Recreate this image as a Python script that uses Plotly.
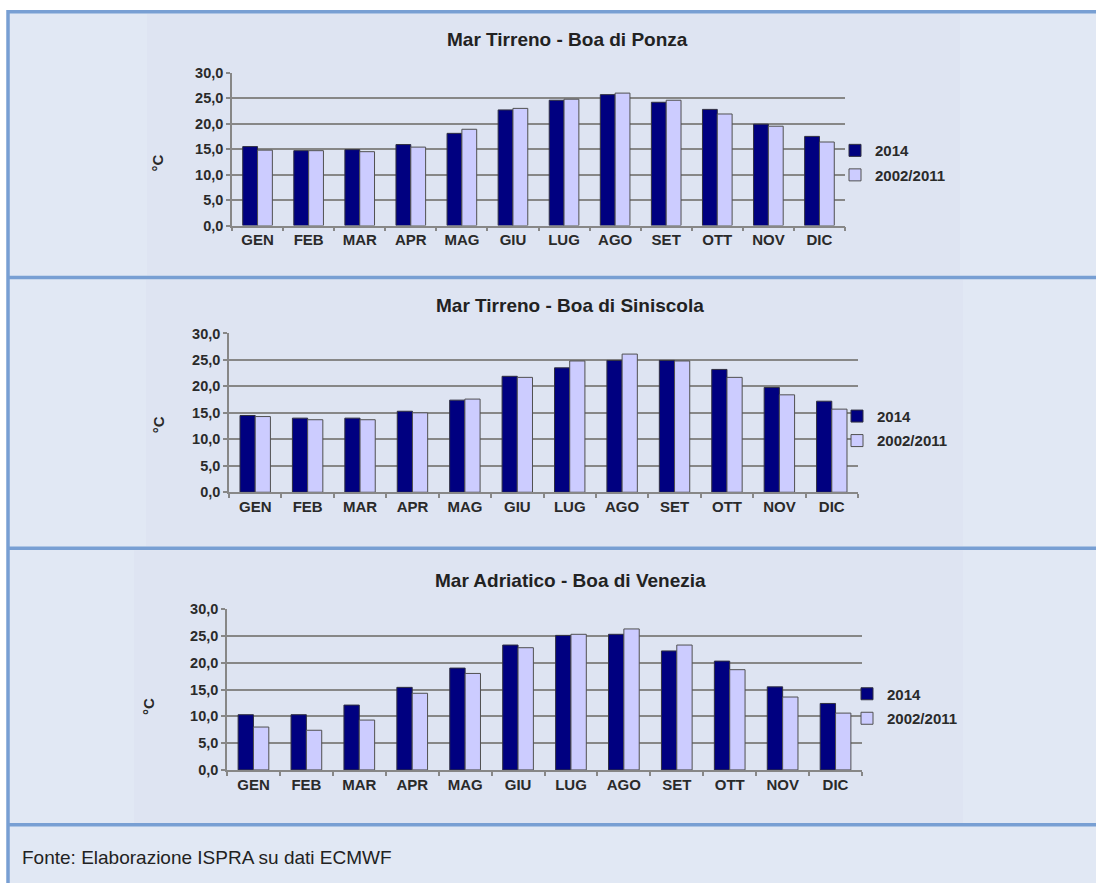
import plotly.graph_objects as go

W, H = 1096, 883

months = ["GEN", "FEB", "MAR", "APR", "MAG", "GIU", "LUG", "AGO", "SET", "OTT", "NOV", "DIC"]
series_names = ["2014", "2002/2011"]

ponza_2014 = [15.5, 14.7, 14.9, 15.9, 18.1, 22.7, 24.6, 25.7, 24.2, 22.8, 19.9, 17.5]
ponza_ref = [14.8, 14.7, 14.5, 15.4, 18.9, 23.0, 24.8, 26.0, 24.6, 21.9, 19.5, 16.4]

siniscola_2014 = [14.5, 14.0, 14.0, 15.3, 17.4, 21.9, 23.5, 24.9, 24.9, 23.2, 19.8, 17.2]
siniscola_ref = [14.3, 13.7, 13.7, 15.0, 17.6, 21.7, 24.8, 26.1, 24.8, 21.7, 18.4, 15.7]

venezia_2014 = [10.3, 10.3, 12.1, 15.4, 19.0, 23.3, 25.1, 25.3, 22.2, 20.3, 15.5, 12.4]
venezia_ref = [8.0, 7.4, 9.3, 14.3, 18.0, 22.8, 25.3, 26.3, 23.3, 18.7, 13.6, 10.6]

titles = ["Mar Tirreno - Boa di Ponza", "Mar Tirreno - Boa di Siniscola", "Mar Adriatico - Boa di Venezia"]
y_tickvals = [0, 5, 10, 15, 20, 25, 30]
y_ticktext = ["0,0", "5,0", "10,0", "15,0", "20,0", "25,0", "30,0"]
y_unit = "°C"
source_text = "Fonte: Elaborazione ISPRA su dati ECMWF"

charts = [(ponza_2014, ponza_ref), (siniscola_2014, siniscola_ref), (venezia_2014, venezia_ref)]

# layout geometry (pixels, as seen in the target picture)
plot_boxes = [(232, 845, 72, 225), (229, 858, 333, 492), (227, 862, 609, 770)]
title_pos = [(567, 39), (570, 305), (570, 580)]
legend_pos = [(835, 162), (837, 428), (847, 706)]
unit_pos = [(158, 163), (158, 425), (148, 707)]
panel_bands = [(13, 275), (279, 546), (550, 825)]
image_regions = [(147, 960), (146, 963), (134, 963)]
border_rows = [11, 277, 548, 825]

FONT = "Arial, 'Liberation Sans', sans-serif"
C2014 = "#000080"
CREF = "#CCCCFF"
GRID = "#878787"
BORDER = "#789FD3"
PANEL = "#E1E8F4"
IMG = "#DEE4F2"
TXT = "#2a2a2a"

def px(x):
    return x / W

def py(y):
    # compensate for the vertical offset/scale observed in the rendered photo
    yc = (y - 7.2) / 0.983
    return 1 - yc / H

fig = go.Figure()
layout = dict(
    width=W, height=H,
    margin=dict(l=0, r=0, t=0, b=0),
    paper_bgcolor="white",
    plot_bgcolor="white",
    barmode="group",
    bargap=0.42,
    bargroupgap=0.0,
    font=dict(family=FONT, color=TXT),
    showlegend=True,
)

shapes = []
annotations = []

# panel backgrounds
shapes.append(dict(type="rect", xref="paper", yref="paper", x0=px(8), x1=1.01, y0=-0.02, y1=py(11),
                   fillcolor=PANEL, line=dict(width=0), layer="below"))
for (y0, y1), (xa, xb) in zip(panel_bands, image_regions):
    shapes.append(dict(type="rect", xref="paper", yref="paper", x0=px(xa), x1=px(xb), y0=py(y1), y1=py(y0),
                       fillcolor=IMG, line=dict(width=0), layer="below"))

# frame borders
for yb in border_rows:
    shapes.append(dict(type="line", xref="paper", yref="paper", x0=px(8), x1=1.01, y0=py(yb), y1=py(yb),
                       line=dict(color=BORDER, width=3.5), layer="above"))
shapes.append(dict(type="line", xref="paper", yref="paper", x0=px(8), x1=px(8), y0=-0.02, y1=py(9.3),
                   line=dict(color=BORDER, width=3.5), layer="above"))

for i, ((s14, sref), (x0, x1, y0, y1)) in enumerate(zip(charts, plot_boxes)):
    n = "" if i == 0 else str(i + 1)
    leg = "legend" if i == 0 else f"legend{i + 1}"
    fig.add_trace(go.Bar(
        x=months, y=s14, name=series_names[0], marker=dict(color=C2014, line=dict(color="#303040", width=1)),
        xaxis=f"x{n}", yaxis=f"y{n}", legend=leg, legendgroup=f"a{i}", hoverinfo="skip"))
    fig.add_trace(go.Bar(
        x=months, y=sref, name=series_names[1], marker=dict(color=CREF, line=dict(color="#505050", width=1)),
        xaxis=f"x{n}", yaxis=f"y{n}", legend=leg, legendgroup=f"b{i}", hoverinfo="skip"))
    layout[f"xaxis{n}"] = dict(
        domain=[px(x0), px(x1)], anchor=f"y{n}", type="category",
        showline=True, linecolor=GRID, linewidth=1.5,
        ticks="outside", tickson="boundaries", ticklen=4, tickcolor=GRID, tickwidth=1.5,
        tickfont=dict(family=FONT, size=15, color=TXT, weight="bold"),
        showgrid=False, fixedrange=True,
    )
    layout[f"yaxis{n}"] = dict(
        domain=[py(y1), py(y0)], anchor=f"x{n}", range=[0, 30],
        tickvals=y_tickvals, ticktext=y_ticktext,
        showline=True, linecolor=GRID, linewidth=1.5,
        ticks="outside", ticklen=4, tickcolor=GRID, tickwidth=1.5,
        showgrid=True, gridcolor=GRID, gridwidth=2,
        zeroline=False,
        tickfont=dict(family=FONT, size=14.5, color=TXT, weight="bold"),
        fixedrange=True,
    )
    lx, ly = legend_pos[i]
    layout[leg] = dict(
        x=px(lx), y=py(ly), xanchor="left", yanchor="middle",
        bgcolor="rgba(0,0,0,0)", borderwidth=0,
        font=dict(family=FONT, size=15, color=TXT, weight="bold"),
        tracegroupgap=2, itemwidth=30,
    )
    tx, ty = title_pos[i]
    annotations.append(dict(text=f"<b>{titles[i]}</b>", x=px(tx), y=py(ty), xref="paper", yref="paper",
                            showarrow=False, xanchor="center", yanchor="middle",
                            font=dict(family=FONT, size=19, color="#222222")))
    ux, uy = unit_pos[i]
    annotations.append(dict(text=f"<b>{y_unit}</b>", x=px(ux), y=py(uy), xref="paper", yref="paper",
                            showarrow=False, xanchor="center", yanchor="middle", textangle=-90,
                            font=dict(family=FONT, size=15, color=TXT)))

annotations.append(dict(text=source_text, x=px(20), y=py(858), xref="paper", yref="paper",
                        showarrow=False, xanchor="left", yanchor="middle",
                        font=dict(family=FONT, size=19, color="#222222")))

layout["shapes"] = shapes
layout["annotations"] = annotations
fig.update_layout(**layout)

page_fix = ("document.body.style.margin='0';document.body.style.padding='0';"
            "document.body.style.overflow='hidden';"
            "document.documentElement.style.overflow='hidden';"
            "var gd=document.querySelector('.plotly-graph-div');"
            "gd.style.position='absolute';gd.style.top='0px';gd.style.left='0px';")
fig.write_html("out.html", post_script=page_fix, config={"displayModeBar": False})
